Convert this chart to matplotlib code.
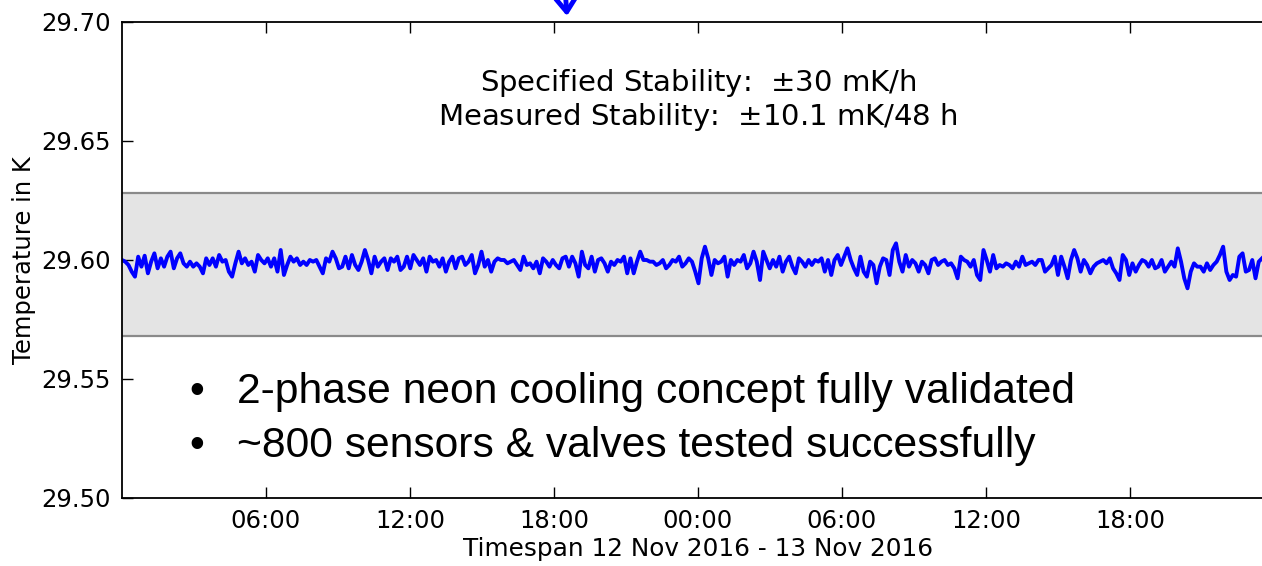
import numpy as np
import matplotlib
matplotlib.use('Agg')
import matplotlib.pyplot as plt
import matplotlib.dates as mdates
from datetime import datetime, timedelta

# Temperature deviation from 29.600 K in mK, 12 Nov 2016 (00:00 - 24:00)
dev_day1 = [
    0, -0.7, -2.1, -4.9, -7.0, 1.4, -2.8, 1.8, -5.6, -0.7, 2.8, -3.5, 0.7, -2.8, 1.4,
    3.5, -3.5, 0.7, 2.8, -1.4, -2.8, -0.7, -2.8, -1.4, -2.8, -5.6, 0.7, -2.1, 0.7, -2.8,
    2.1, -0.7, 0.0, -4.9, -7.0, -1.4, 3.5, -1.4, 0.7, -2.1, -0.7, -4.9, 2.1, 0.0, -1.4,
    0.7, -2.8, 0.7, -4.9, 4.2, -6.3, -2.1, 1.4, -0.7, 0.7, -2.1, -0.7, -2.1, 0.0,
    -0.7, 0, -2.8, -5.6, 0.7, -0.7, 3.5, 0.7, -3.5, -2.8, 1.4, -3.5, 2.1, -2.1, -4.2,
    -0.7, 4.2, 0, -5.6, 1.4, -2.8, -0.7, 0.7, -4.2, 0.7, -0.7, 1.4, -4.2, -2.8, 1.4,
    -3.5, 2.1, 0, -2.1, 0.7, -4.9, 1.4, -0.7, 0, -2.8, 0.7, -4.9, -0.7, 1.4, -3.5,
    0.7, 1.4, -2.1, -0.7, 2.1, -5.6, -2.1, 3.5, -2.8, 0, -4.9, -0.7, 0.7, 0,
    0, -1.4, -0.7, 0, -2.1, -4.2, 1.4, -2.1, -1.4, -3.5, -0.7, -5.6, 0.7, -0.7, -2.8,
    0, -2.1, -3.5, 0.7, 1.4, -2.8, 1.4, -1.4, -7.0, 3.5, -2.1, -3.5, 1.4, -4.9, 0,
    0.7, -1.4, -4.9, -0.7, -2.1, 0, -0.7, 1.4, -5.6, 0.7, -5.6, -0.7, 3.5, 0, 0,
    -0.7, -0.7, -2.1, -1.4, 0, -3.5, -2.1, 0, -0.7, 1.4, -2.8, -1.4, 0.7, -0.7,
]

# 13 Nov 2016
dev_day2 = [
    -4.9, -9.8, 0.7, 5.6, 0.7, -6.3, 0, -1.4, -0.7, 1.4, -7.0, 0, -2.1, 0, -0.7,
    2.1, -3.5, -1.4, 3.5, -0.7, -8.4, 3.5, 0, -3.5, 0, -2.8, 1.4, -4.9, -0.7, 1.4,
    -2.8, -5.6, 0.7, -0.7, -2.8, 0, -2.1, 0, -0.7, 0.7, -4.9, 0, -6.3, 0, 2.1,
    -2.1, 1.4, 4.9, 0, -3.5, -6.3, 1.4, -4.9, -7.0, -0.7, -2.1, -9.8, -2.8, 0.7,
    0, -6.3, 4.2, 7.0, -0.7, -4.9, 2.1, -2.8, 0, -1.4, -4.9, -0.7, -2.1, -5.6, 0,
    0.7, -2.1, -0.7, 0, -2.1, -1.4, -3.5, -7.7, 1.4, 0, -0.7, -2.8, 0, -6.3, -8.4,
    4.2, 0, -4.9, 2.1, -3.5, -2.1, -2.8, -1.4, -2.1, -3.5, -0.7, -2.8, 1.4, -2.1, -1.4,
    -0.7, -2.1, 0, 0, -4.9, -3.5, -2.1, 1.4, -6.3, 1.4, -2.8, -7.7, 0, 4.2,
    0.7, -4.9, 0, -2.1, -5.6, -2.8, -1.4, -0.7, 0, -1.4, 0.7, -3.5, -5.6, -8.4, 2.1,
    0, -6.3, -1.4, -4.9, -2.1, 0, -0.7, -2.8, 0, -3.5, -2.8, 0, -4.9, -2.8, -0.7,
    -2.8, 4.9, -0.7, -7.7, -11.9, -4.9, -1.4, -2.8, -2.8, -4.9, -1.4, -4.2, -2.1, -0.7, 2.1,
    5.6, -4.9, -8.4, -6.3, -7.0, 1.4, 2.8, -4.9, -4.2, 0, -7.7, -0.7, 0.7,
]

T_REF = 29.600          # K
BAND_CENTER = 29.598    # K
SPEC_MK = 30            # specified stability, mK
MEAS_MK = 10.1          # measured stability, mK
t_start = datetime(2016, 11, 12)
t_last_h = 47.5         # last sample, hours after start
tick_hours = [6, 12, 18, 24, 30, 36, 42]
bullets = ['2-phase neon cooling concept fully validated',
           '~800 sensors & valves tested successfully']

dev = np.array(dev_day1 + dev_day2)
temps = T_REF + dev / 1000.0
hours = np.linspace(0, t_last_h, len(temps))
times = [t_start + timedelta(hours=float(h)) for h in hours]

fs = 17.5
fig = plt.figure(figsize=(12.62, 5.66), dpi=100)
ax = fig.add_axes([122 / 1262, 68 / 566, 1152 / 1262, 476 / 566])

band_lo = BAND_CENTER - SPEC_MK / 1000.0
band_hi = BAND_CENTER + SPEC_MK / 1000.0
ax.axhspan(band_lo, band_hi, facecolor='#e4e4e4', edgecolor='none', zorder=0)
ax.axhline(band_lo, color='#8a8a8a', lw=1.6, zorder=1)
ax.axhline(band_hi, color='#8a8a8a', lw=1.6, zorder=1)

ax.plot(times, temps, color='#0000ff', lw=2.8, zorder=2)

ax.set_xlim(t_start, t_start + timedelta(hours=48))
ax.set_ylim(29.50, 29.70)
ax.set_yticks([29.50, 29.55, 29.60, 29.65, 29.70])
ax.yaxis.set_major_formatter(matplotlib.ticker.FormatStrFormatter('%.2f'))
ax.set_xticks([t_start + timedelta(hours=h) for h in tick_hours])
ax.xaxis.set_major_formatter(mdates.DateFormatter('%H:%M'))
ax.tick_params(direction='in', length=8, width=1, labelsize=fs,
               top=True, right=True, pad=8)
for s in ax.spines.values():
    s.set_linewidth(1.3)

ax.set_ylabel('Temperature in K', fontsize=fs)
ax.yaxis.set_label_coords(-0.075, 0.5)
ax.set_xlabel('Timespan 12 Nov 2016 - 13 Nov 2016', fontsize=17.8, labelpad=3)

fs_note = 21
ax.text(0.5, 0.871, 'Specified Stability:  $\\pm$%d mK/h' % SPEC_MK,
        transform=ax.transAxes, ha='center', va='center', fontsize=fs_note)
ax.text(0.5, 0.800, 'Measured Stability:  $\\pm$%.1f mK/48 h' % MEAS_MK,
        transform=ax.transAxes, ha='center', va='center', fontsize=fs_note)

# summary bullets
for i, line in enumerate(bullets):
    y = 1 - (403 + 54 * i) / 566
    fig.text(189 / 1262, y, '\u2022', fontsize=30.7, family='Liberation Sans',
             va='baseline', ha='left')
    fig.text(237 / 1262, y, line, fontsize=30.7, family='Liberation Sans',
             va='baseline', ha='left')

# pointer arrow coming in from above
ax.annotate('', xy=(567, 550), xycoords='figure pixels',
            xytext=(562, 620), textcoords='figure pixels',
            arrowprops=dict(arrowstyle='->,head_length=0.55,head_width=0.4',
                            color='#0000ff', lw=3.5, mutation_scale=20,
                            shrinkA=0, shrinkB=0))

fig.savefig('out.png', dpi=100)
